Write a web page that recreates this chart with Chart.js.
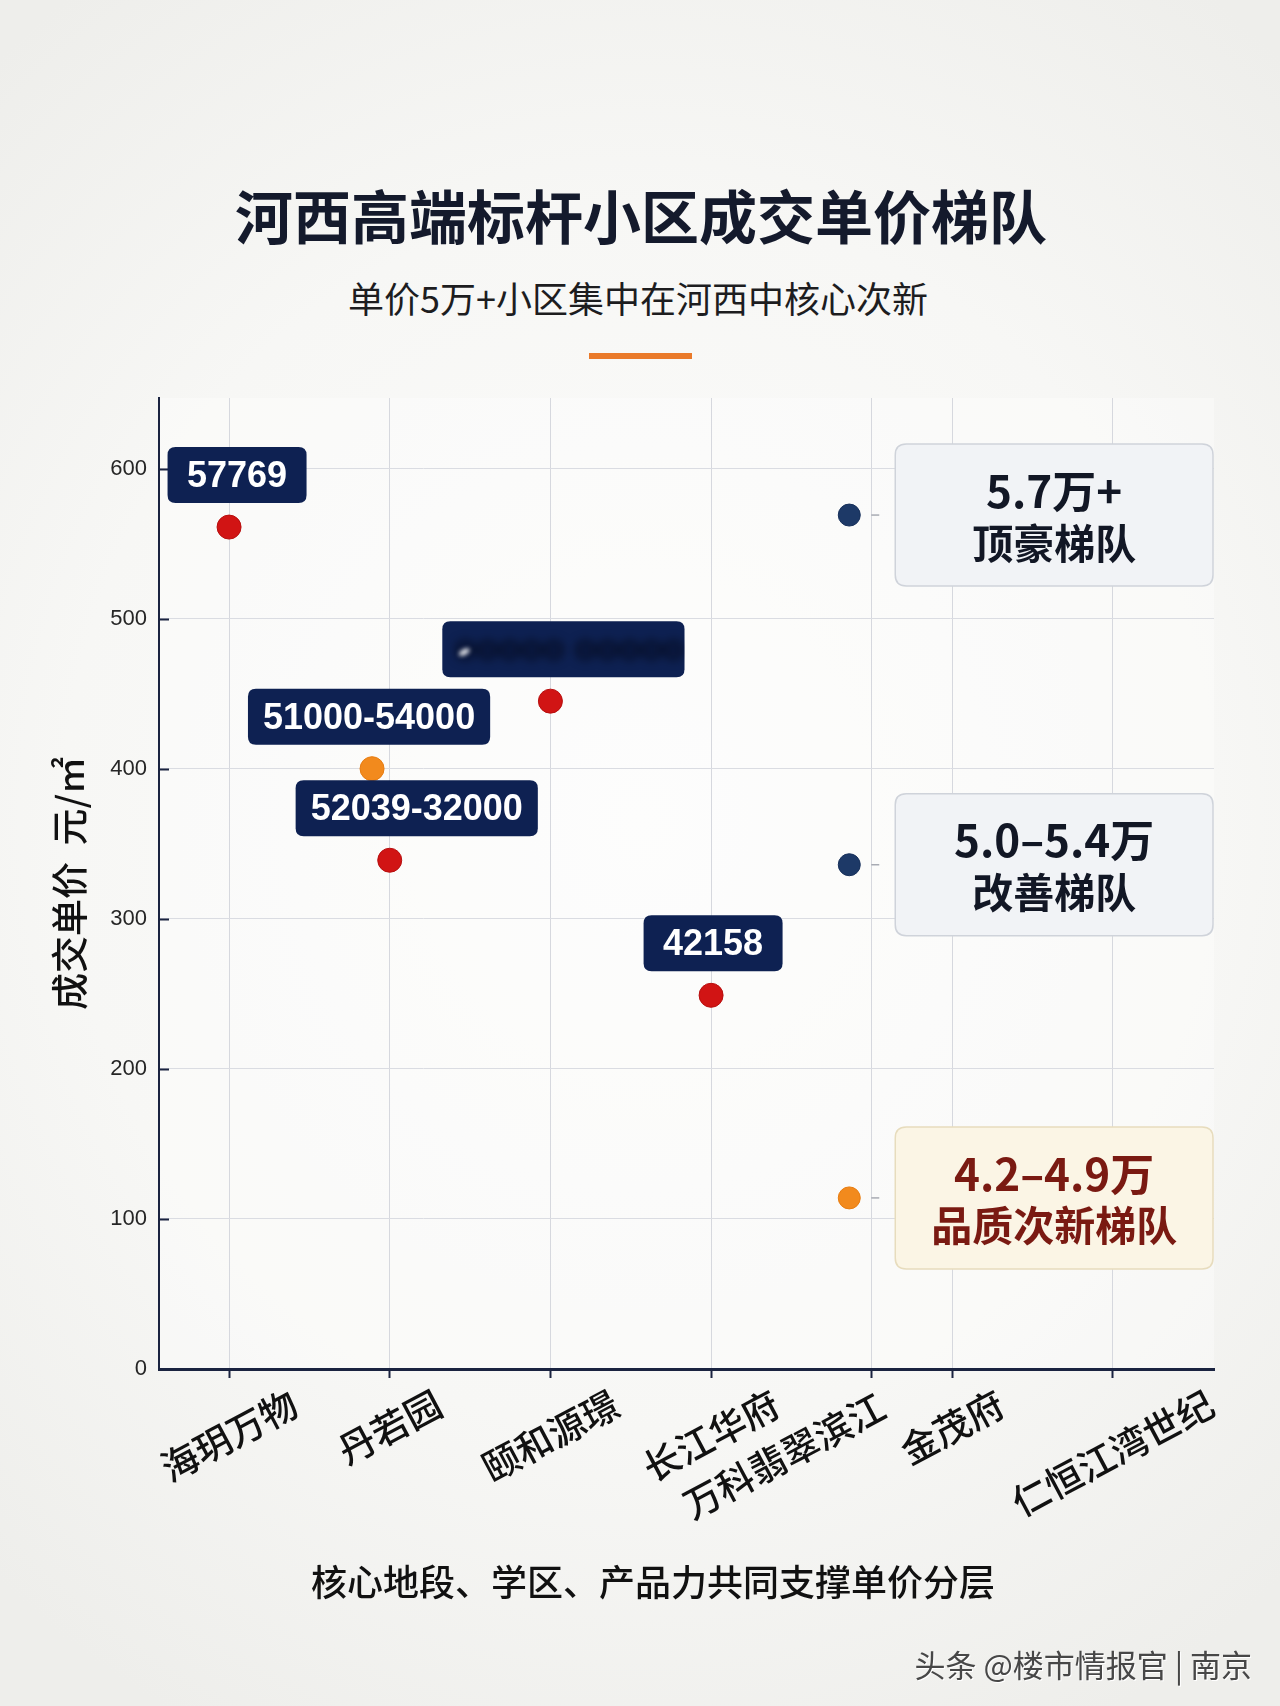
<!DOCTYPE html>
<html>
<head>
<meta charset="utf-8">
<script src="https://cdn.jsdelivr.net/npm/chart.js@4.4.1/dist/chart.umd.min.js"></script>
<style>
  html, body { margin: 0; padding: 0; }
  body {
    width: 1280px; height: 1706px; position: relative; overflow: hidden;
    background: radial-gradient(ellipse 75% 60% at 50% 48%, #fcfcfb 0%, #f7f7f5 60%, #eeeeeb 100%);
    font-family: "Noto Sans CJK SC", "Noto Sans", sans-serif;
  }
  .txt { position: absolute; white-space: nowrap; }
  #title { left: 0; width: 1282px; top: 174px; height: 80px; line-height: 80px; text-align: center;
           font-size: 58px; font-weight: 700; color: #141a2c; }
  #subtitle { left: 0; width: 1276px; top: 272px; height: 50px; line-height: 50px; text-align: center;
              font-size: 36px; font-weight: 400; color: #1d1d1f; }
  #bar { position: absolute; left: 589px; top: 353px; width: 103px; height: 6px; background: #ea7a2a; }
  #caption { left: 0; width: 1306px; top: 1555px; height: 50px; line-height: 50px; text-align: center;
             font-size: 36px; font-weight: 500; color: #111; }
  #footer { right: 28px; top: 1642px; height: 44px; line-height: 44px; font-size: 31px; color: #474747;
            text-shadow: 1px 1px 0 #ffffff; }
  #wrap { position: absolute; left: 0; top: 0; width: 1280px; height: 1706px; }
</style>
</head>
<body>
<div id="title" class="txt">河西高端标杆小区成交单价梯队</div>
<div id="subtitle" class="txt">单价5万+小区集中在河西中核心次新</div>
<div id="bar"></div>
<div id="wrap"><canvas id="c" width="1280" height="1706"></canvas></div>
<div id="caption" class="txt">核心地段、学区、产品力共同支撑单价分层</div>
<div id="footer" class="txt">头条 @楼市情报官 | 南京</div>

<script>
// ---------------- data ----------------
const categories   = ['海玥万物', '丹若园', '颐和源璟', ['长江华府', '万科翡翠滨江'], '', '金茂府', '仁恒江湾世纪'];
const categoryPos  = [0, 1, 2, 3, 4, 4.5, 5.5];
const yTickValues  = [0, 100, 200, 300, 400, 500, 600];
const yAxisTitle   = '成交单价  元/㎡';

const pointX       = [0, 0.89, 1, 2, 3];
const pointPrice   = [561, 400, 339, 445, 249];
const pointLabels  = ['57769', '51000-54000', '52039-32000', null, '42158'];   // null = blurred in source
const pointTone    = ['red', 'orange', 'red', 'red', 'red'];
const redactedText = 'ooooo ooooo';

const tierX        = [3.86, 3.86, 3.86];
const tierPrice    = [569, 336, 114];
const tierRange    = ['5.7万+', '5.0–5.4万', '4.2–4.9万'];
const tierName     = ['顶豪梯队', '改善梯队', '品质次新梯队'];
const tierTone     = ['navy', 'navy', 'orange'];

// ---------------- styles ----------------
const COLORS = { red: '#d11414', orange: '#f28a1d', navy: '#1d3967' };
const BORDERS = { red: '#b70e0e', orange: '#e77c10', navy: '#17305a' };
const labelShift = [8, -3, 27, 13, 2];
const CJK = '"Noto Sans CJK SC", "Noto Sans", sans-serif';
const NUM = '"Liberation Sans", Arial, sans-serif';

function rr(ctx, x, y, w, h, r) {
  ctx.beginPath();
  ctx.moveTo(x + r, y);
  ctx.lineTo(x + w - r, y); ctx.quadraticCurveTo(x + w, y, x + w, y + r);
  ctx.lineTo(x + w, y + h - r); ctx.quadraticCurveTo(x + w, y + h, x + w - r, y + h);
  ctx.lineTo(x + r, y + h); ctx.quadraticCurveTo(x, y + h, x, y + h - r);
  ctx.lineTo(x, y + r); ctx.quadraticCurveTo(x, y, x + r, y);
  ctx.closePath();
}

const annot = {
  id: 'annot',
  beforeDraw(chart) {
    const { ctx, chartArea: a } = chart;
    ctx.save();
    ctx.fillStyle = 'rgba(255,255,255,0.35)';
    ctx.fillRect(a.left, a.top, a.right - a.left, a.bottom - a.top);
    ctx.restore();
  },
  afterDraw(chart) {
    const { ctx, chartArea: a } = chart;
    const xs = chart.scales.x, ys = chart.scales.y;
    ctx.save();

    // inner y ticks
    ctx.strokeStyle = '#1a2340'; ctx.lineWidth = 2;
    ys.ticks.forEach(t => {
      if (t.value === 0) return;
      const py = Math.round(ys.getPixelForValue(t.value)) + 0.5;
      ctx.beginPath(); ctx.moveTo(a.left, py); ctx.lineTo(a.left + 10, py); ctx.stroke();
    });

    // x category labels (rotated, centred on ticks)
    const deg = 28;
    const ang = -deg * Math.PI / 180;
    ctx.fillStyle = '#111';
    ctx.font = '500 37px ' + CJK;
    categories.forEach((lab, i) => {
      if (!lab || (Array.isArray(lab) && !lab.length)) return;
      const lines = Array.isArray(lab) ? lab : [lab];
      const tx = xs.getPixelForValue(categoryPos[i]);
      const L1 = ctx.measureText(lines[0]).width;
      const cx = tx, cy = a.bottom + 32 + (L1 / 2) * Math.sin(-ang);
      ctx.save();
      ctx.translate(cx, cy); ctx.rotate(ang);
      ctx.textBaseline = 'middle';
      ctx.textAlign = 'center';
      ctx.fillText(lines[0], 0, 0);
      for (let k = 1; k < lines.length; k++) {
        ctx.textAlign = 'left';
        ctx.fillText(lines[k], -L1 / 2 + 18, 52 * k);
      }
      ctx.restore();
    });

    // value label boxes
    const meta = chart.getDatasetMeta(0);
    meta.data.forEach((pt, i) => {
      const txt = pointLabels[i];
      ctx.font = 'bold 36px ' + NUM;
      const tw = ctx.measureText(txt === null ? '00000-00000' : txt).width;
      const w = Math.max(tw + 30, 139), h = 56;
      const cx = pt.x + labelShift[i];
      const bottom = pt.y - 24;
      ctx.fillStyle = '#0e2152';
      rr(ctx, cx - w / 2, bottom - h, w, h, 8); ctx.fill();
      ctx.textAlign = 'center'; ctx.textBaseline = 'middle';
      if (txt === null) {
        ctx.save();
        rr(ctx, cx - w / 2, bottom - h, w, h, 8); ctx.clip();
        ctx.filter = 'blur(5px)';
        ctx.fillStyle = '#040a1e';
        ctx.fillText(redactedText, cx + 6, bottom - h / 2 + 1);
        ctx.fillStyle = 'rgba(255,255,255,0.85)';
        ctx.filter = 'blur(2px)';
        ctx.beginPath(); ctx.ellipse(cx - w / 2 + 22, bottom - h / 2 + 3, 6, 3, -0.5, 0, Math.PI * 2); ctx.fill();
        ctx.restore();
      } else {
        ctx.fillStyle = '#ffffff';
        ctx.fillText(txt, cx, bottom - h / 2 + 2);
      }
    });

    // tier boxes
    const tmeta = chart.getDatasetMeta(1);
    tmeta.data.forEach((pt, i) => {
      const left = pt.x + 46, right = a.right - 1, h = 142;
      const top = pt.y - h / 2;
      const warm = tierTone[i] === 'orange';
      ctx.strokeStyle = '#a8abb3'; ctx.lineWidth = 1.5;
      ctx.beginPath(); ctx.moveTo(pt.x + 22, pt.y); ctx.lineTo(pt.x + 30, pt.y); ctx.stroke();
      ctx.fillStyle = warm ? '#fbf5e5' : '#f1f3f6';
      ctx.strokeStyle = warm ? '#e7dcbd' : '#cfd3da';
      ctx.lineWidth = 1.5;
      rr(ctx, left, top, right - left, h, 11); ctx.fill(); ctx.stroke();
      const cx = (left + right) / 2;
      ctx.fillStyle = warm ? '#7a1a12' : '#121725';
      ctx.textAlign = 'center'; ctx.textBaseline = 'middle';
      ctx.font = 'bold 44px ' + CJK;
      ctx.fillText(tierRange[i], cx, pt.y - 24);
      ctx.font = 'bold 41px ' + CJK;
      ctx.fillText(tierName[i], cx, pt.y + 28);
    });

    ctx.restore();
  }
};

new Chart(document.getElementById('c'), {
  type: 'scatter',
  data: {
    datasets: [
      {
        label: '成交单价',
        data: pointX.map((x, i) => ({ x, y: pointPrice[i] })),
        pointRadius: 12,
        pointBackgroundColor: pointTone.map(t => COLORS[t]),
        pointBorderColor: pointTone.map(t => BORDERS[t]),
        pointBorderWidth: 1
      },
      {
        label: '梯队',
        data: tierX.map((x, i) => ({ x, y: tierPrice[i] })),
        pointRadius: 11,
        pointBackgroundColor: tierTone.map(t => COLORS[t]),
        pointBorderColor: tierTone.map(t => BORDERS[t]),
        pointBorderWidth: 1
      }
    ]
  },
  options: {
    responsive: false,
    animation: false,
    events: [],
    layout: { padding: { top: 398, right: 66, left: 0, bottom: 0 } },
    plugins: { legend: { display: false }, tooltip: { enabled: false } },
    scales: {
      x: {
        type: 'linear',
        min: -0.436, max: 6.13,
        afterBuildTicks: s => { s.ticks = categoryPos.map(v => ({ value: v })); },
        afterFit: s => { s.height = 337; },
        ticks: { display: false },
        grid: { color: '#d6d8de', lineWidth: 1, drawTicks: true, tickLength: 9, tickColor: '#1a2340', tickWidth: 2 },
        border: { color: '#1a2340', width: 3 }
      },
      y: {
        min: 0, max: 647,
        afterBuildTicks: s => { s.ticks = yTickValues.map(v => ({ value: v })); },
        afterFit: s => { s.width = 159; },
        ticks: { padding: 12, color: '#262626', font: { family: NUM, size: 22 } },
        grid: { color: '#dadce2', lineWidth: 1, drawTicks: false },
        border: { color: '#1a2340', width: 2 },
        title: {
          display: true, text: yAxisTitle, color: '#111',
          font: { family: CJK, size: 37, weight: '500' },
          padding: { top: 48, bottom: 0 }
        }
      }
    }
  },
  plugins: [annot]
});
</script>
</body>
</html>
